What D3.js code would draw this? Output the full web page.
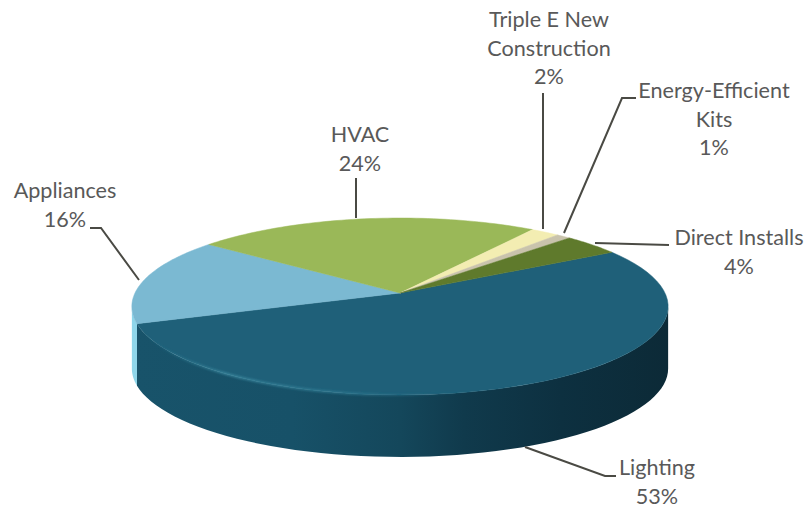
<!DOCTYPE html>
<html><head><meta charset="utf-8">
<style>html,body{margin:0;padding:0;background:#fff}svg{display:block}</style>
<script src="https://cdn.jsdelivr.net/npm/d3@7/dist/d3.min.js"></script>
</head><body><svg id="c" width="808" height="508"></svg>
<script>
const categories = ["Lighting","Appliances","HVAC","Triple E New Construction","Energy-Efficient Kits","Direct Installs"];
const shares = [53,16,24,2,1,4];
const topColors = ["#1f6079","#7bb9d2","#9ab858","#f3edb2","#c9c3ac","#5f7a2c"];
const labelLines = [["Lighting","53%"],["Appliances","16%"],["HVAC","24%"],["Triple E New","Construction","2%"],["Energy-Efficient","Kits","1%"],["Direct Installs","4%"]];
const labelAnchors = [[657,468],[65,191],[360,135],[549,20],[714,91],[739,238]];
const leaders = [
  [[525,447],[605,476],[616,476]],
  [[90,228],[101,228],[139,280]],
  [[356,178],[356,218]],
  [[543,93],[543,229]],
  [[636,98],[622,98],[564,233]],
  [[595,243],[669,245]]
];
const W=808,H=508,cx=400,cy=293,R=265,S=86.4,k=0.1525,depth=62,lineH=28.5,startDeg=59.5;
const svg=d3.select("#c");
const defs=svg.append("defs");
const sx=d3.scaleLinear().domain([0,1]).range([cx,cx+R]);
const sy=d3.scaleLinear().domain([0,1]).range([cy,cy+S]);
function proj(theta){const u=Math.cos(theta),v=Math.sin(theta),w=1-k*v;return [sx(u/w),sy(v/w)];}
const arcs=d3.pie().sort(null).value(d=>d).startAngle(startDeg*Math.PI/180).endAngle(startDeg*Math.PI/180+2*Math.PI)(shares);
const th=a=>a-Math.PI/2;
const samples=(a,b)=>d3.range(0,61).map(i=>a+(b-a)*i/60);
const line=d3.line();
const sg=defs.append("linearGradient").attr("id","sideL").attr("gradientUnits","userSpaceOnUse").attr("x1",132).attr("x2",668).attr("y1",0).attr("y2",0);
[[0,"#18536a"],[.3,"#175168"],[.5,"#14475b"],[.62,"#103a4c"],[.8,"#0d3040"],[1,"#0c2a37"]].forEach(s=>sg.append("stop").attr("offset",s[0]).attr("stop-color",s[1]));
const left=Math.PI-Math.asin(k),right=Math.asin(k);
const sideG=svg.append("g");
// Visible rim: Lighting and a sliver of Appliances
arcs.forEach((d,i)=>{
  const a=Math.max(th(d.startAngle),right),b=Math.min(th(d.endAngle),left);
  if(b<=a) return;
  const rim=samples(a,b).map(proj);
  const low=rim.map(p=>[p[0],p[1]+depth]).reverse();
  sideG.append("path").attr("d",line(rim.concat(low))+"Z").attr("fill",i===0?"url(#sideL)":"#8fd6ea");
});
const topG=svg.append("g");
arcs.forEach((d,i)=>{
  const pts=[[cx,cy]].concat(samples(th(d.startAngle),th(d.endAngle)).map(proj));
  topG.append("path").attr("d",line(pts)+"Z").attr("fill",topColors[i]).attr("stroke",topColors[i]).attr("stroke-width",.5);
});
// soft bevel highlight along left part of Lighting rim
defs.append("filter").attr("id","soft").append("feGaussianBlur").attr("stdDeviation",0.8);
const hg=defs.append("linearGradient").attr("id","hl").attr("gradientUnits","userSpaceOnUse").attr("x1",145).attr("x2",470).attr("y1",0).attr("y2",0);
[[0,"#2f7f96",0],[.25,"#3d8ba2",.9],[.65,"#2f7c94",.7],[1,"#1f6079",0]].forEach(s=>hg.append("stop").attr("offset",s[0]).attr("stop-color",s[1]).attr("stop-opacity",s[2]));
svg.append("path").attr("d",line(samples(th(arcs[0].endAngle),Math.PI/3).map(proj))).attr("fill","none").attr("stroke","url(#hl)").attr("stroke-width",2.2).attr("filter","url(#soft)");
// leaders
svg.append("g").selectAll("path").data(leaders).join("path").attr("d",d=>line(d)).attr("fill","none").attr("stroke","#4a4a44").attr("stroke-width",2);
// labels
labelLines.forEach((ls,i)=>{
  const t=svg.append("text").attr("text-anchor","middle").attr("font-family","Lato, 'Open Sans', sans-serif").attr("font-size",21.6).attr("fill","#595959");
  ls.forEach((s,j)=>t.append("tspan").attr("x",labelAnchors[i][0]).attr("y",labelAnchors[i][1]+7+j*lineH).text(s));
});
</script></body></html>
